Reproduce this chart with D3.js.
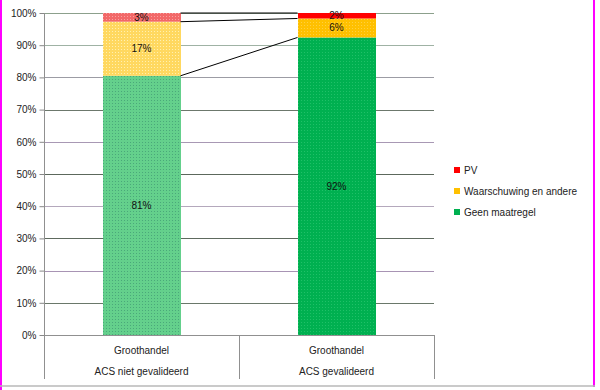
<!DOCTYPE html>
<html><head><meta charset="utf-8">
<script src="https://cdn.jsdelivr.net/npm/d3@7"></script>
<style>body{margin:0;background:#fff}svg{display:block}text{font-family:"Liberation Sans",Arial,sans-serif}</style>
</head><body>
<script>
const categories = ["Groothandel", "Groothandel"];
const groups = ["ACS niet gevalideerd", "ACS gevalideerd"];
const series = ["Geen maatregel", "Waarschuwing en andere", "PV"];
const geen = [80.5, 92.4];
const waarschuwing = [16.8, 5.9];
const pv = [2.7, 1.7];
const yTicks = [0,10,20,30,40,50,60,70,80,90,100];

(function(){
const W = 600, H = 390;
const svg = d3.select("body").append("svg").attr("width", W).attr("height", H);
const pLeft = 44, pRight = 434, pTop = 13, pBottom = 335;

const x = d3.scaleBand().domain([0,1]).range([pLeft, pRight]).paddingInner(0).paddingOuter(0);
const y = d3.scaleLinear().domain([0,100]).range([pBottom, pTop]);
const bw = x.bandwidth() * 0.4;

// frame
svg.append("line").attr("x1",1).attr("x2",1).attr("y1",0).attr("y2",H).attr("stroke","#ff00ff").attr("stroke-width",2);
svg.append("line").attr("x1",594).attr("x2",594).attr("y1",0).attr("y2",387).attr("stroke","#ff00ff").attr("stroke-width",2);
svg.append("line").attr("x1",0).attr("x2",595).attr("y1",386).attr("y2",386).attr("stroke","#b8b8b8").attr("stroke-width",1.5);

// gridlines
const gridColors = ["#8c8c8c","#6a786a","#a894b4","#5e6a5e","#b4a8bc","#5c685c","#a898b4","#6c786c","#9c9ca4","#9fb2a4","#8ca08c"];
svg.append("g").selectAll("line").data(yTicks).join("line")
  .attr("x1", pLeft).attr("x2", pRight)
  .attr("y1", d => Math.round(y(d)) + 0.5).attr("y2", d => Math.round(y(d)) + 0.5)
  .attr("stroke", (d,i) => gridColors[i]).attr("stroke-width", 1);

// y axis
const yAxis = d3.axisLeft(y).tickValues(yTicks).tickFormat(d => d + "%").tickSize(5).tickPadding(3);
const gy = svg.append("g").attr("transform", `translate(${pLeft + 0.5},0)`).call(yAxis);
gy.select(".domain").remove();
gy.selectAll(".tick line").attr("stroke", "#888");
gy.selectAll("text").attr("font-size", 10).attr("fill", "#222").attr("font-family", "Liberation Sans, Arial, sans-serif");
svg.append("line").attr("x1", pLeft+0.5).attr("x2", pLeft+0.5).attr("y1", pTop).attr("y2", 379).attr("stroke", "#909090");

// category axis dividers
[x(1), pRight].forEach(v => {
  svg.append("line").attr("x1", Math.round(v)+0.5).attr("x2", Math.round(v)+0.5).attr("y1", pBottom).attr("y2", 379).attr("stroke", "#909090");
});
svg.append("line").attr("x1", pLeft).attr("x2", pRight).attr("y1", pBottom+0.5).attr("y2", pBottom+0.5).attr("stroke", "#909090");

// patterns (dotted fills like the reference)
const defs = svg.append("defs");
function pat(id, base, dot) {
  const p = defs.append("pattern").attr("id", id).attr("width", 3).attr("height", 3).attr("patternUnits", "userSpaceOnUse");
  p.append("rect").attr("width", 3).attr("height", 3).attr("fill", base);
  p.append("rect").attr("x", 1).attr("y", 1).attr("width", 1).attr("height", 1).attr("fill", dot);
}
pat("g0", "#64d08c", "#4aa87a");
pat("w0", "#ffd860", "#fff0b0");
pat("p0", "#f26868", "#f8a0a0");
pat("g1", "#00b050", "#20c068");
pat("w1", "#ffc000", "#ffd040");
const fills = [["url(#g0)","url(#w0)","url(#p0)"],["url(#g1)","url(#w1)","#ff0000"]];

const stackVals = [geen, waarschuwing, pv];
const segs = [];
for (let i = 0; i < 2; i++) {
  let acc = 0;
  for (let s = 0; s < 3; s++) {
    const v = stackVals[s][i];
    segs.push({i, s, y0: acc, y1: acc + v, v});
    acc += v;
  }
}
const cx = i => x(i) + x.bandwidth() / 2;
svg.append("g").selectAll("rect").data(segs).join("rect")
  .attr("x", d => Math.round(cx(d.i) - bw/2))
  .attr("width", Math.round(bw))
  .attr("y", d => y(d.y1))
  .attr("height", d => y(d.y0) - y(d.y1))
  .attr("fill", d => fills[d.i][d.s]);

// series lines
for (let s = 0; s < 3; s++) {
  const a = segs.find(d => d.i === 0 && d.s === s), b = segs.find(d => d.i === 1 && d.s === s);
  svg.append("line")
    .attr("x1", cx(0) + bw/2).attr("y1", y(a.y1))
    .attr("x2", cx(1) - bw/2).attr("y2", y(b.y1))
    .attr("stroke", "#000").attr("stroke-width", 1);
}

// data labels
svg.append("g").selectAll("text").data(segs).join("text")
  .attr("x", d => cx(d.i))
  .attr("y", d => (y(d.y0) + y(d.y1)) / 2 + 3.5)
  .attr("text-anchor", "middle").attr("font-size", 10).attr("fill", "#111")
  .text(d => Math.round(d.v) + "%");

// category labels
svg.append("g").selectAll("text").data(categories).join("text")
  .attr("x", (d,i) => cx(i)).attr("y", 354).attr("text-anchor", "middle")
  .attr("font-size", 10).attr("fill", "#222").text(d => d);
svg.append("g").selectAll("text").data(groups).join("text")
  .attr("x", (d,i) => cx(i)).attr("y", 375).attr("text-anchor", "middle")
  .attr("font-size", 10).attr("fill", "#222").text(d => d);

// legend
const legendItems = [
  {name: series[2], color: "#ff0000"},
  {name: series[1], color: "#ffc000"},
  {name: series[0], color: "#00b050"}
];
const lg = svg.append("g").selectAll("g").data(legendItems).join("g")
  .attr("transform", (d,i) => `translate(454,${167 + i*21})`);
lg.append("rect").attr("width", 6).attr("height", 6).attr("fill", d => d.color);
lg.append("text").attr("x", 10).attr("y", 7).attr("font-size", 10).attr("fill", "#222").text(d => d.name);
})();
</script>
</body></html>
